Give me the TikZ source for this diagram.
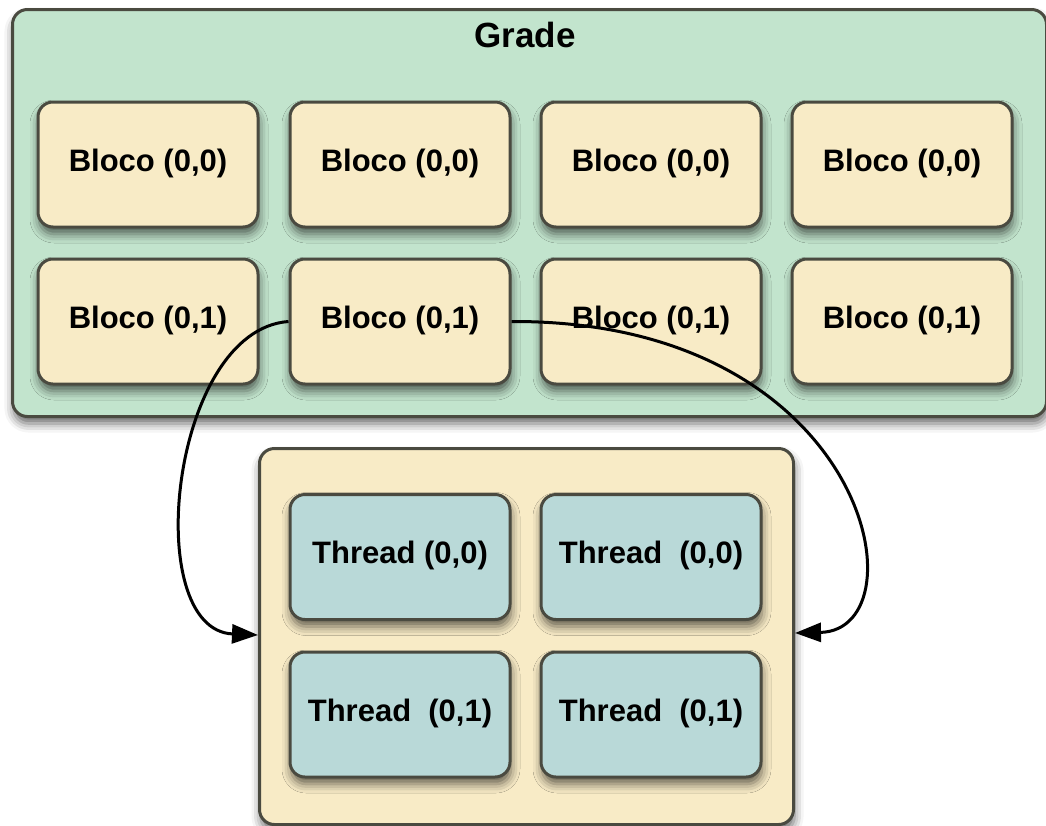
\documentclass[tikz,border=0pt]{standalone}
\usepackage{fontspec}
\setmainfont{Liberation Sans}
\usetikzlibrary{shadows.blur,arrows.meta}
\definecolor{gradefill}{HTML}{C2E4CD}
\definecolor{blockfill}{HTML}{F8EBC6}
\definecolor{threadfill}{HTML}{B9D9D8}
\definecolor{edge}{HTML}{4A4A40}
\tikzset{
  panel/.style={draw=edge, line width=3pt, rounded corners=15pt, inner sep=0pt,
    blur shadow={shadow xshift=1pt, shadow yshift=-7pt, shadow blur radius=9pt, shadow opacity=60}},
  blockbox/.style={panel, fill=blockfill, minimum width=220pt, minimum height=125pt,
    font=\bfseries\fontsize{31}{33}\selectfont, text height=23pt, text depth=10pt},
  threadbox/.style={blockbox, fill=threadfill},
  conn/.style={line width=3pt, -{Triangle[length=26pt,width=19pt]}}
}
\begin{document}
\begin{tikzpicture}[x=1pt,y=-1pt]
\useasboundingbox (0,0) rectangle (1046,825);
% grade
\node[panel, fill=gradefill, minimum width=1034pt, minimum height=407pt, anchor=north west] (grade) at (11,8) {};
\node[font=\bfseries\fontsize{35}{37}\selectfont] (gtitle) at (525,35) {Grade};
% blocks
\foreach \i/\x in {1/148,2/400,3/651,4/902}{
  \node[blockbox] (b0\i) at (\x,164.5) {Bloco (0,0)};
  \node[blockbox] (b1\i) at (\x,321.5) {Bloco (0,1)};
}
% thread block
\node[panel, fill=blockfill, minimum width=534pt, minimum height=376pt, anchor=north west] (tb) at (258,447) {};
\node[threadbox] (t00) at (400,557) {Thread (0,0)};
\node[threadbox] (t01) at (651,557) {Thread\ \ (0,0)};
\node[threadbox] (t10) at (400,714.5) {Thread\ \ (0,1)};
\node[threadbox] (t11) at (651,714.5) {Thread\ \ (0,1)};
% connectors
\coordinate (lt) at (tb.west |- 0,635);
\coordinate (rt) at (tb.east |- 0,633);
\draw[conn] (b12.west) .. controls (170,330) and (140,630) .. (lt);
\draw[conn] (b12.east) .. controls (870,320) and (925,630) .. (rt);
\end{tikzpicture}
\end{document}
